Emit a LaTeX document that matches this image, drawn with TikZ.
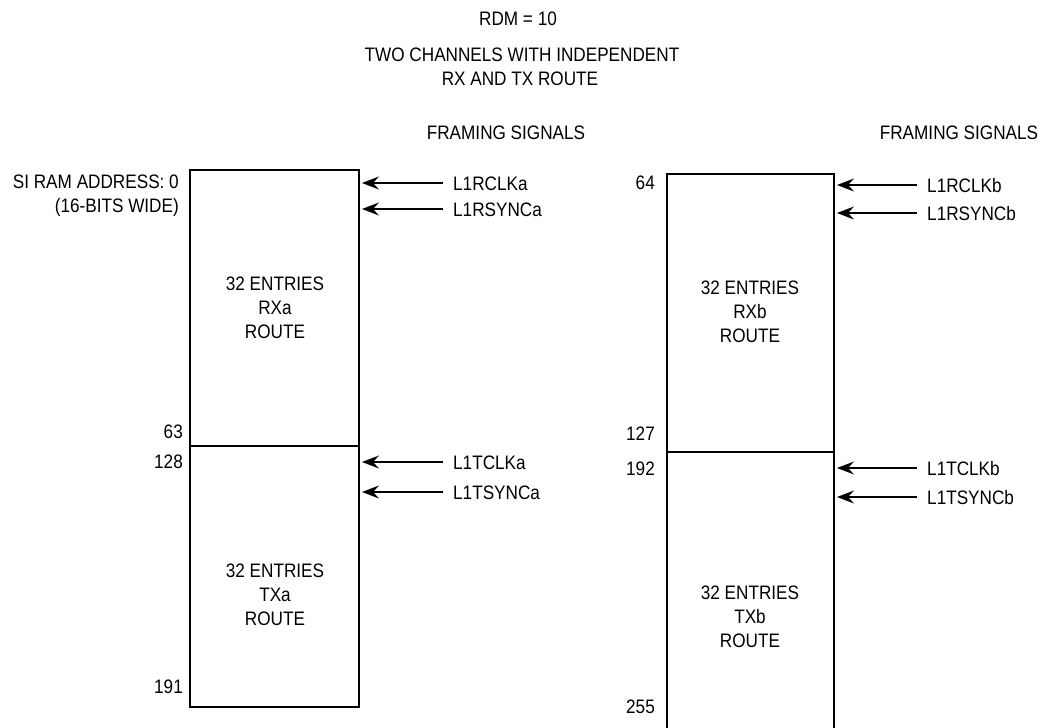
\documentclass[tikz,border=0pt]{standalone}
\usepackage{fontspec}
\setmainfont{Liberation Sans}[FakeStretch=0.88]
\usetikzlibrary{arrows.meta}
\begin{document}
\begin{tikzpicture}[x=1pt,y=-1pt,
  every node/.style={font=\fontsize{19.5}{24}\selectfont, inner sep=0pt, text=black},
  boxline/.style={line width=2.6pt, line join=miter},
  sig/.style={line width=1.3pt, -{Stealth[length=17pt,width=13pt,inset=6pt]}},
  siglbl/.style={anchor=west, inner xsep=10pt, text height=14pt, text depth=0pt},
  addr/.style={anchor=base east},
  mid/.style={anchor=base}]
\useasboundingbox (0,0) rectangle (1042,728);
% titles
\node[mid] (t1) at (518,25) {RDM = 10};
\node[mid] (t2) at (522,61) {TWO CHANNELS WITH INDEPENDENT};
\node[mid] (t3) at (520,85) {RX AND TX ROUTE};
\node[mid] (fs1) at (506,139) {FRAMING SIGNALS};
\node[mid] (fs2) at (959,139) {FRAMING SIGNALS};
% left box
\draw[boxline] (190,170) rectangle (359,707);
\draw[boxline] (190,446) -- (359,446);
\node[mid] (ra1) at (275,290) {32 ENTRIES};
\node[mid] (ra2) at (275,314) {RXa};
\node[mid] (ra3) at (275,338) {ROUTE};
\node[mid] (xa1) at (275,577) {32 ENTRIES};
\node[mid] (xa2) at (275,601) {TXa};
\node[mid] (xa3) at (275,625) {ROUTE};
\node[addr] (ad0) at (179,188) {SI RAM ADDRESS: 0};
\node[addr] (ad0b) at (179,212) {(16-BITS WIDE)};
\node[addr] (ad63) at (183,438) {63};
\node[addr] (ad128) at (183,468) {128};
\node[addr] (ad191) at (183,693) {191};
% right box
\draw[boxline] (667,728) -- (667,174) -- (834,174) -- (834,728);
\draw[boxline] (667,452) -- (834,452);
\node[mid] (rb1) at (750,294) {32 ENTRIES};
\node[mid] (rb2) at (750,318) {RXb};
\node[mid] (rb3) at (750,342) {ROUTE};
\node[mid] (xb1) at (750,599) {32 ENTRIES};
\node[mid] (xb2) at (750,623) {TXb};
\node[mid] (xb3) at (750,647) {ROUTE};
\node[addr] (ad64) at (655,189) {64};
\node[addr] (ad127) at (655,440) {127};
\node[addr] (ad192) at (655,475) {192};
\node[addr] (ad255) at (655,713) {255};
% signals left
\node[siglbl] (s1) at (443,183) {L1RCLKa};
\node[siglbl] (s2) at (443,209) {L1RSYNCa};
\node[siglbl] (s3) at (443,462) {L1TCLKa};
\node[siglbl] (s4) at (443,492) {L1TSYNCa};
\coordinate (e1) at (362,183);
\coordinate (e2) at (362,209);
\coordinate (e3) at (362,462);
\coordinate (e4) at (362,492);
\draw[sig] (s1.west) -- (e1);
\draw[sig] (s2.west) -- (e2);
\draw[sig] (s3.west) -- (e3);
\draw[sig] (s4.west) -- (e4);
% signals right
\node[siglbl] (s5) at (917,185) {L1RCLKb};
\node[siglbl] (s6) at (917,213) {L1RSYNCb};
\node[siglbl] (s7) at (917,468) {L1TCLKb};
\node[siglbl] (s8) at (917,497) {L1TSYNCb};
\coordinate (e5) at (837,185);
\coordinate (e6) at (837,213);
\coordinate (e7) at (837,468);
\coordinate (e8) at (837,497);
\draw[sig] (s5.west) -- (e5);
\draw[sig] (s6.west) -- (e6);
\draw[sig] (s7.west) -- (e7);
\draw[sig] (s8.west) -- (e8);
\end{tikzpicture}
\end{document}
